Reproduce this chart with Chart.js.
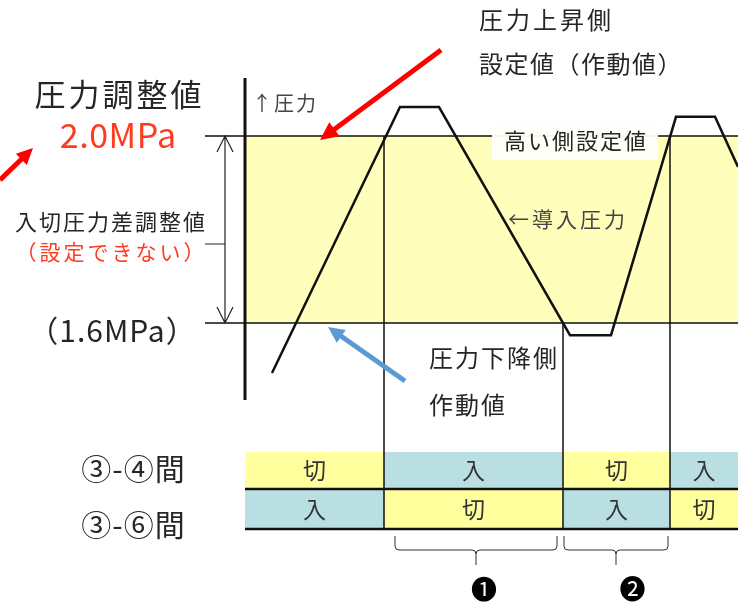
<!DOCTYPE html>
<html>
<head>
<meta charset="utf-8">
<script src="https://cdn.jsdelivr.net/npm/chart.js@4.4.1/dist/chart.umd.min.js"></script>
<style>
  html, body { margin: 0; padding: 0; background: #fff; }
  #wrap { width: 738px; height: 604px; }
</style>
</head>
<body>
<div id="wrap"><canvas id="pressureChart" width="738" height="604"></canvas></div>
<script>
// Pressure switch waveform (time in arbitrary units, pressure in MPa)
const timeSteps = [2.7, 15.5, 19.4, 32.5, 36.6, 43.1, 47.0, 49.3];
const pressureMPa = [1.493, 2.062, 2.062, 1.574, 1.574, 2.041, 2.041, 1.934];

// High / low setting levels
const settingLevels = [2.0, 1.6];

// Moments where the contacts switch, and contact states between them
const switchTimes = [13.9, 31.8, 42.5];
const state34 = ["切", "入", "切", "入"];
const state36 = ["入", "切", "入", "切"];
const intervalLabels = ["❶", "❷"];

const JP = '"Noto Sans CJK JP", "Noto Sans", sans-serif';
const TEXT = "#262626";
const RED = "#ff3b1f";
const BAND = "#ffffbb";
const CELL_YELLOW = "#ffff9e";
const CELL_BLUE = "#b9dfe2";

function text(ctx, str, x, y, size, color, align, spacing) {
  const sp = spacing || 0;
  ctx.font = size + "px " + JP;
  ctx.letterSpacing = sp + "px";
  ctx.fillStyle = color || TEXT;
  ctx.textAlign = align || "left";
  ctx.textBaseline = "middle";
  ctx.fillText(str, align === "center" ? x + sp / 2 : x, y);
  ctx.letterSpacing = "0px";
}

function arrow(ctx, x1, y1, x2, y2, color, width, head) {
  const a = Math.atan2(y2 - y1, x2 - x1);
  ctx.strokeStyle = color;
  ctx.fillStyle = color;
  ctx.lineWidth = width;
  ctx.beginPath();
  ctx.moveTo(x1, y1);
  ctx.lineTo(x2 - Math.cos(a) * head * 0.8, y2 - Math.sin(a) * head * 0.8);
  ctx.stroke();
  ctx.beginPath();
  ctx.moveTo(x2, y2);
  ctx.lineTo(x2 - head * Math.cos(a - 0.45), y2 - head * Math.sin(a - 0.45));
  ctx.lineTo(x2 - head * Math.cos(a + 0.45), y2 - head * Math.sin(a + 0.45));
  ctx.closePath();
  ctx.fill();
}

function brace(ctx, x1, x2, top) {
  const mid = (x1 + x2) / 2;
  ctx.strokeStyle = "#333";
  ctx.lineWidth = 1;
  ctx.beginPath();
  ctx.moveTo(x1, top);
  ctx.lineTo(x1, top + 10);
  ctx.quadraticCurveTo(x1, top + 14, x1 + 4, top + 14);
  ctx.lineTo(mid - 4, top + 14);
  ctx.quadraticCurveTo(mid, top + 14, mid, top + 18);
  ctx.lineTo(mid, top + 29);
  ctx.moveTo(mid, top + 18);
  ctx.quadraticCurveTo(mid, top + 14, mid + 4, top + 14);
  ctx.lineTo(x2 - 4, top + 14);
  ctx.quadraticCurveTo(x2, top + 14, x2, top + 10);
  ctx.lineTo(x2, top);
  ctx.stroke();
}

const diagramPlugin = {
  id: "diagram",
  beforeDatasetsDraw(chart) {
    const { ctx, scales: { x, y }, chartArea } = chart;
    const x0 = x.getPixelForValue(0);
    const yHi = y.getPixelForValue(settingLevels[0]);
    const yLo = y.getPixelForValue(settingLevels[1]);
    ctx.save();
    // setting band
    ctx.fillStyle = BAND;
    ctx.fillRect(x0, yHi, chartArea.right - x0, yLo - yHi);

    // contact state table
    const rows = [state34, state36];
    const rowTop = [452, 489];
    const rowH = [37, 40];
    const edges = [x0].concat(switchTimes.map(t => x.getPixelForValue(t)), [chartArea.right]);
    rows.forEach((row, r) => {
      row.forEach((s, i) => {
        ctx.fillStyle = s === "入" ? CELL_BLUE : CELL_YELLOW;
        ctx.fillRect(edges[i], rowTop[r], edges[i + 1] - edges[i], rowH[r]);
        text(ctx, s, (edges[i] + edges[i + 1]) / 2, rowTop[r] + rowH[r] / 2, 23, "#333", "center");
      });
    });
    ctx.strokeStyle = "#111";
    ctx.lineWidth = 2.5;
    ctx.beginPath();
    ctx.moveTo(x0, 489); ctx.lineTo(chartArea.right, 489);
    ctx.moveTo(x0, 529); ctx.lineTo(chartArea.right, 529);
    ctx.stroke();

    // setting lines
    ctx.strokeStyle = "#111";
    ctx.lineWidth = 1.5;
    ctx.beginPath();
    ctx.moveTo(205, yHi); ctx.lineTo(chartArea.right, yHi);
    ctx.moveTo(205, yLo); ctx.lineTo(chartArea.right, yLo);
    ctx.stroke();

    // switching verticals (rising edges start at the high line, falling edge at the low line)
    switchTimes.forEach((t, i) => {
      const px = x.getPixelForValue(t);
      const from = i === 1 ? yLo : yHi;
      ctx.beginPath();
      ctx.moveTo(px, from); ctx.lineTo(px, 529);
      ctx.stroke();
    });

    // pressure axis
    ctx.lineWidth = 3;
    ctx.beginPath();
    ctx.moveTo(x0, 78); ctx.lineTo(x0, 400);
    ctx.stroke();

    // differential double arrow
    ctx.lineWidth = 1.2;
    ctx.strokeStyle = "#222";
    ctx.beginPath();
    ctx.moveTo(225, yHi); ctx.lineTo(225, yLo);
    ctx.moveTo(217, yHi + 16); ctx.lineTo(225, yHi); ctx.lineTo(233, yHi + 16);
    ctx.moveTo(217, yLo - 16); ctx.lineTo(225, yLo); ctx.lineTo(233, yLo - 16);
    ctx.moveTo(205, 244); ctx.lineTo(225, 244);
    ctx.stroke();

    // label box for the high setting
    ctx.fillStyle = "rgba(255,255,250,0.95)";
    ctx.fillRect(492, 124, 166, 36);
    ctx.restore();
  },
  afterDatasetsDraw(chart) {
    const { ctx, scales: { x } } = chart;
    ctx.save();
    text(ctx, "圧力調整値", 118, 94, 31, TEXT, "center", 3);
    text(ctx, "2.0MPa", 118, 135, 34, RED, "center", 0.5);
    text(ctx, "↑圧力", 252, 103, 20, "#444", "left", 2);
    text(ctx, "入切圧力差調整値", 110, 222, 22, TEXT, "center", 2);
    text(ctx, "（設定できない）", 110, 252, 21, RED, "center", 3);
    text(ctx, "（1.6MPa）", 112, 331, 30, TEXT, "center", 1);
    text(ctx, "圧力上昇側", 479, 20, 24, TEXT, "left", 3);
    text(ctx, "設定値（作動値）", 479, 64, 24, TEXT, "left", 1.5);
    text(ctx, "高い側設定値", 575, 141, 22, TEXT, "center", 2);
    text(ctx, "←導入圧力", 508, 219, 21, "#444", "left", 3);
    text(ctx, "圧力下降側", 429, 358, 24, TEXT, "left", 2);
    text(ctx, "作動値", 429, 405, 24, TEXT, "left", 2);
    text(ctx, "③-④間", 133, 469, 30, TEXT, "center", 1);
    text(ctx, "③-⑥間", 133, 525, 30, TEXT, "center", 1);

    // pointer arrows
    arrow(ctx, 441, 50, 320, 140, "#ff0000", 5, 20);
    arrow(ctx, 0, 180, 33, 148, "#ff0000", 5, 18);
    arrow(ctx, 405, 381, 328, 327, "#5b9bd5", 5, 18);

    // interval braces
    const s = switchTimes.map(t => x.getPixelForValue(t));
    brace(ctx, s[0] + 11, s[1] - 6, 536);
    brace(ctx, s[1] + 1, s[2] - 2, 536);
    text(ctx, intervalLabels[0], (s[0] + 11 + s[1] - 6) / 2 + 8, 589, 26, "#000", "center");
    text(ctx, intervalLabels[1], (s[1] + s[2]) / 2 + 16, 589, 26, "#000", "center");
    ctx.restore();
  }
};

const ctx = document.getElementById("pressureChart").getContext("2d");
new Chart(ctx, {
  type: "scatter",
  data: {
    datasets: [
      {
        label: "導入圧力",
        data: timeSteps.map((t, i) => ({ x: t, y: pressureMPa[i] })),
        showLine: true,
        borderColor: "#111",
        borderWidth: 2.5,
        pointRadius: 0,
        tension: 0,
        borderJoinStyle: "miter",
      },
    ],
  },
  options: {
    responsive: false,
    animation: false,
    layout: { padding: 0 },
    scales: {
      x: { type: "linear", display: false, min: -24.5, max: 49.3 },
      y: { type: "linear", display: false, min: 0.99893, max: 2.29091 },
    },
    plugins: {
      legend: { display: false },
      tooltip: { enabled: false },
    },
  },
  plugins: [diagramPlugin],
});
</script>
</body>
</html>
